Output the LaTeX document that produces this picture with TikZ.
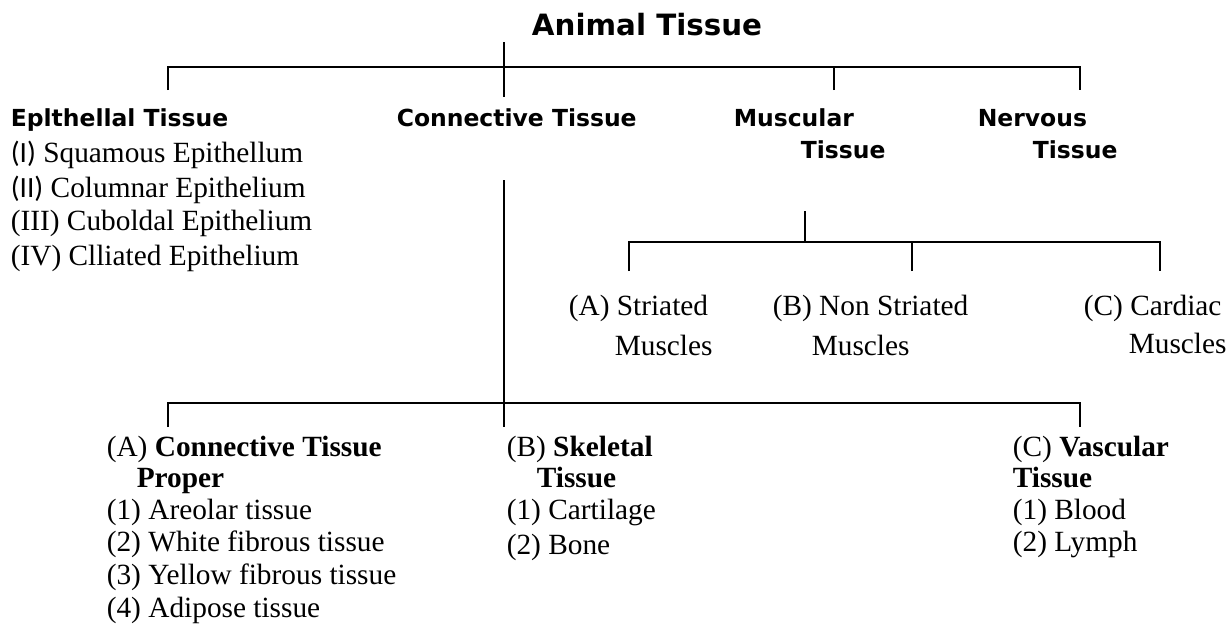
\documentclass[tikz,border=0pt]{standalone}
\usepackage{fontspec}
\setmainfont{Liberation Serif}
\newfontfamily\hdfont{DejaVu Sans}
\newfontfamily\cbfont{Carlito}
\begin{document}
\begin{tikzpicture}[x=0.75pt,y=-0.75pt,line width=1.2pt,
  lbl/.style={anchor=base west,inner sep=0pt,font=\fontsize{22}{26}\selectfont},
  hdg/.style={anchor=base west,inner sep=0pt,font=\hdfont\bfseries\fontsize{17.6}{20}\selectfont}]
\useasboundingbox (0,0) rectangle (1230,636);
% title
\node[anchor=base,inner sep=0pt,font=\hdfont\bfseries\fontsize{22}{26}\selectfont] (title) at (647,35) {Animal Tissue};
% level 1 connectors
\coordinate (t0) at (504,42); \coordinate (t1) at (504,97);
\coordinate (hL) at (168,67); \coordinate (hR) at (1080,67);
\coordinate (epiT) at (168,90); \coordinate (musT) at (834,90); \coordinate (nerT) at (1080,90);
\draw (t0) -- (t1);
\draw (epiT) -- (hL) -- (hR) -- (nerT);
\draw (musT) -- (musT|-hL);
% level 1 headings
\node[hdg] (epi) at (10,126) {Eplthellal Tissue};
\node[hdg] (con) at (396,126) {Connective Tissue};
\node[hdg] (mus1) at (733,126) {Muscular};
\node[hdg] (mus2) at (800,158) {Tissue};
\node[hdg] (ner1) at (977,126) {Nervous};
\node[hdg] (ner2) at (1032,158) {Tissue};
% epithelial list
\node[lbl] (e1) at (10,162) {{\cbfont(I)} Squamous Epithellum};
\node[lbl] (e2) at (10,197) {{\cbfont(II)} Columnar Epithelium};
\node[lbl] (e3) at (10,230) {(III) Cuboldal Epithelium};
\node[lbl] (e4) at (10,265) {(IV) Clliated Epithelium};
% muscular subtree
\coordinate (m0) at (805,211); \coordinate (m1) at (805,242);
\coordinate (mL) at (629,242); \coordinate (mR) at (1160,242);
\coordinate (mA) at (629,271); \coordinate (mB) at (912,271); \coordinate (mC) at (1160,271);
\draw (m0) -- (m1);
\draw (mA) -- (mL) -- (mR) -- (mC);
\draw (mB) -- (mB|-mL);
\node[lbl] (sa1) at (568,315) {(A) Striated};
\node[lbl] (sa2) at (614,355) {Muscles};
\node[lbl] (sb1) at (772,315) {(B) Non Striated};
\node[lbl] (sb2) at (811,355) {Muscles};
\node[lbl] (sc1) at (1083,315) {(C) Cardiac};
\node[lbl] (sc2) at (1128,353) {Muscles};
% connective subtree
\coordinate (c0) at (504,180); \coordinate (c1) at (504,427);
\coordinate (cL) at (168,403); \coordinate (cR) at (1080,403);
\coordinate (cA) at (168,427); \coordinate (cC) at (1080,427);
\draw (c0) -- (c1);
\draw (cA) -- (cL) -- (cR) -- (cC);
% connective tissue proper
\node[lbl] (pa1) at (106,456) {(A) \textbf{Connective Tissue}};
\node[lbl] (pa2) at (136,487) {\textbf{Proper}};
\node[lbl] (pa3) at (106,519) {(1) Areolar tissue};
\node[lbl] (pa4) at (106,551) {(2) White fibrous tissue};
\node[lbl] (pa5) at (106,584) {(3) Yellow fibrous tissue};
\node[lbl] (pa6) at (106,617) {(4) Adipose tissue};
% skeletal
\node[lbl] (sk1) at (506,456) {(B) \textbf{Skeletal}};
\node[lbl] (sk2) at (536,487) {\textbf{Tissue}};
\node[lbl] (sk3) at (506,519) {(1) Cartilage};
\node[lbl] (sk4) at (506,554) {(2) Bone};
% vascular
\node[lbl] (va1) at (1012,456) {(C) \textbf{Vascular}};
\node[lbl] (va2) at (1012,487) {\textbf{Tissue}};
\node[lbl] (va3) at (1012,519) {(1) Blood};
\node[lbl] (va4) at (1012,551) {(2) Lymph};
\end{tikzpicture}
\end{document}
